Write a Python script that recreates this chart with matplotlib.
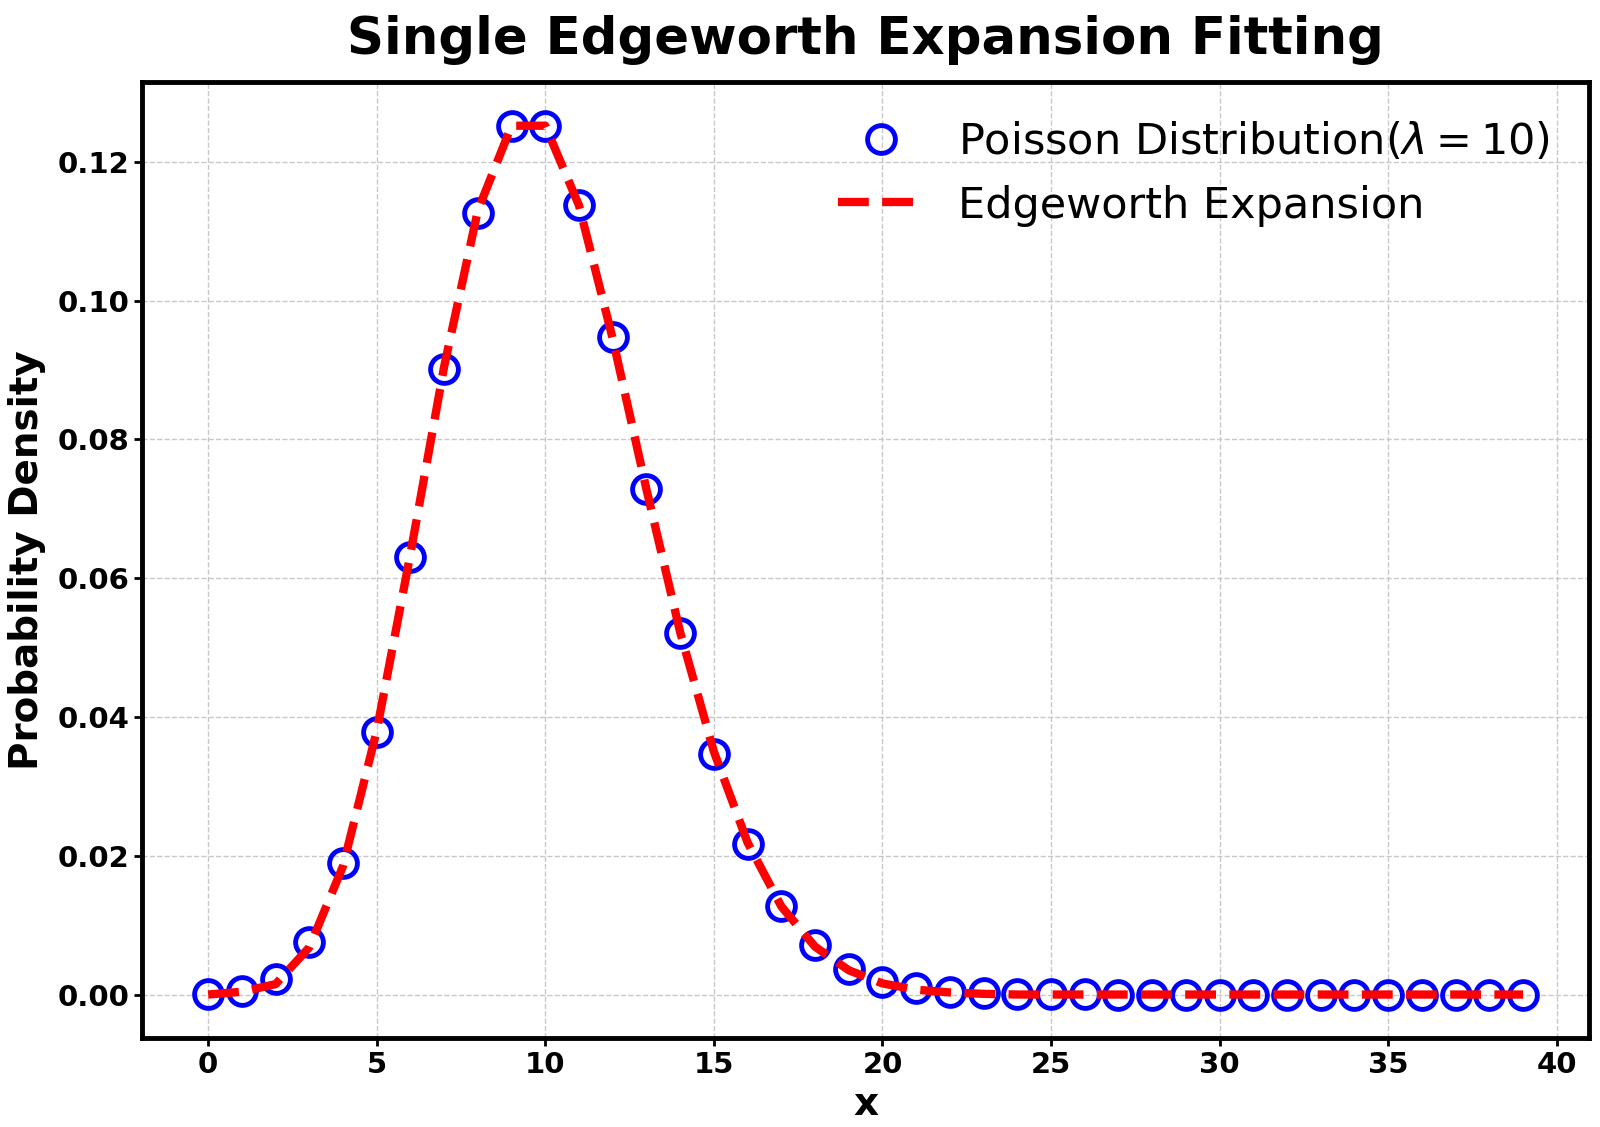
import matplotlib
matplotlib.use("Agg")
import matplotlib.pyplot as plt
import numpy as np

# values
x_vals = list(range(40))
poisson_pmf = [0.00005, 0.00045, 0.00227, 0.00757, 0.01892, 0.03783, 0.06306, 0.09008,
               0.11260, 0.12511, 0.12511, 0.11374, 0.09478, 0.07291, 0.05208, 0.03472,
               0.02170, 0.01276, 0.00709, 0.00373, 0.00187, 0.00089, 0.00040, 0.00018,
               0.00007, 0.00003, 0.00001, 0.0, 0.0, 0.0, 0.0, 0.0, 0.0, 0.0, 0.0, 0.0,
               0.0, 0.0, 0.0, 0.0]
edgeworth = [0.0, 0.0004, 0.0015, 0.0068, 0.0185, 0.0380, 0.0635, 0.0905, 0.1130, 0.1252,
             0.1252, 0.1137, 0.0945, 0.0728, 0.0522, 0.0350, 0.0219, 0.0127, 0.0069, 0.0035,
             0.0016, 0.0007, 0.0003, 0.0001, 0.0, 0.0, 0.0, 0.0, 0.0, 0.0, 0.0, 0.0, 0.0,
             0.0, 0.0, 0.0, 0.0, 0.0, 0.0, 0.0]

fig, ax = plt.subplots(figsize=(16, 11.27), dpi=100)

ax.plot(x_vals, poisson_pmf, 'o', markersize=20, markerfacecolor='none',
        markeredgecolor='blue', markeredgewidth=3.5, label=r'Poisson Distribution($\lambda = 10$)')
ax.plot(x_vals, edgeworth, '--', color='red', linewidth=6,
        label='Edgeworth Expansion')

ax.set_title('Single Edgeworth Expansion Fitting', fontsize=37, fontweight='bold', pad=20)
ax.set_xlabel('x', fontsize=28, fontweight='bold', labelpad=4)
ax.set_ylabel('Probability Density', fontsize=28, fontweight='bold', labelpad=8)

ax.tick_params(axis='both', labelsize=21, width=2, length=6)
for lab in ax.get_xticklabels() + ax.get_yticklabels():
    lab.set_fontweight('bold')

for sp in ax.spines.values():
    sp.set_linewidth(3.5)

ax.grid(True, linestyle='--', color='#c8c8c8', linewidth=1)
ax.legend(fontsize=31, frameon=False, loc='upper right', handlelength=2.0)

fig.subplots_adjust(left=0.089, right=0.993, top=0.927, bottom=0.079)
plt.savefig('out.png', dpi=100)
